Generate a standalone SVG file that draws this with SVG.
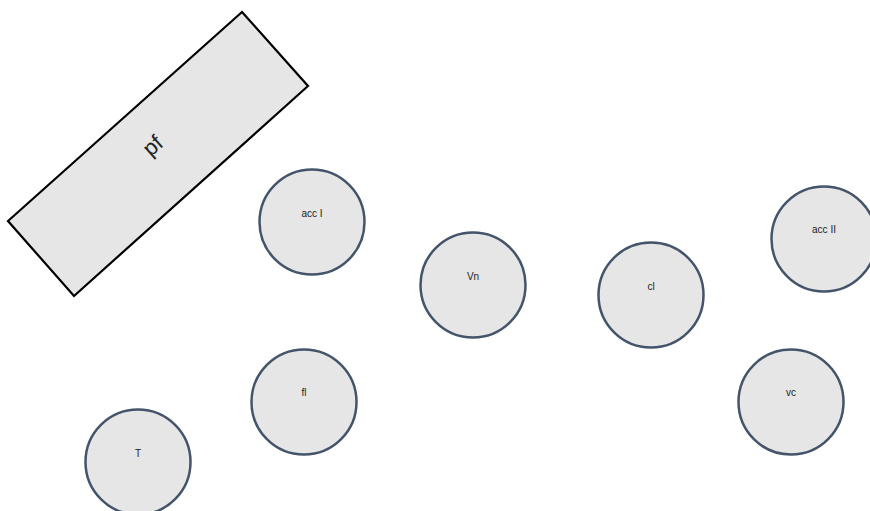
<svg xmlns="http://www.w3.org/2000/svg" width="870" height="511" viewBox="0 0 870 511">
<style>
.n{fill:#e6e6e6;stroke:#44546a;stroke-width:2.5}
.t{font-family:"Liberation Sans",Arial,sans-serif;font-size:10px;fill:#222;text-anchor:middle}
.r{fill:#e6e6e6;stroke:#000;stroke-width:2.2}
</style>
<rect width="870" height="511" fill="#fff"/>
<g id="pf">
<polygon class="r" points="242,12 308,86 74,296 8,221"/>
<text x="153" y="153" transform="rotate(-41.8 153 146)" style="font-family:'Liberation Sans',Arial,sans-serif;font-size:22px;fill:#222;text-anchor:middle">pf</text>
</g>
<g id="accI"><circle class="n" cx="312" cy="222" r="52.5"/><text class="t" x="312" y="217">acc I</text></g>
<g id="Vn"><circle class="n" cx="473" cy="285" r="52.5"/><text class="t" x="473" y="280">Vn</text></g>
<g id="cl"><circle class="n" cx="651" cy="295" r="52.5"/><text class="t" x="651" y="290">cl</text></g>
<g id="accII"><circle class="n" cx="824" cy="239" r="52.5"/><text class="t" x="824" y="233">acc II</text></g>
<g id="fl"><circle class="n" cx="304" cy="402" r="52.5"/><text class="t" x="304" y="396">fl</text></g>
<g id="vc"><circle class="n" cx="791" cy="402" r="52.5"/><text class="t" x="791" y="396">vc</text></g>
<g id="T"><circle class="n" cx="138" cy="462" r="52.5"/><text class="t" x="138" y="457">T</text></g>
<g id="connectors"></g>
</svg>
